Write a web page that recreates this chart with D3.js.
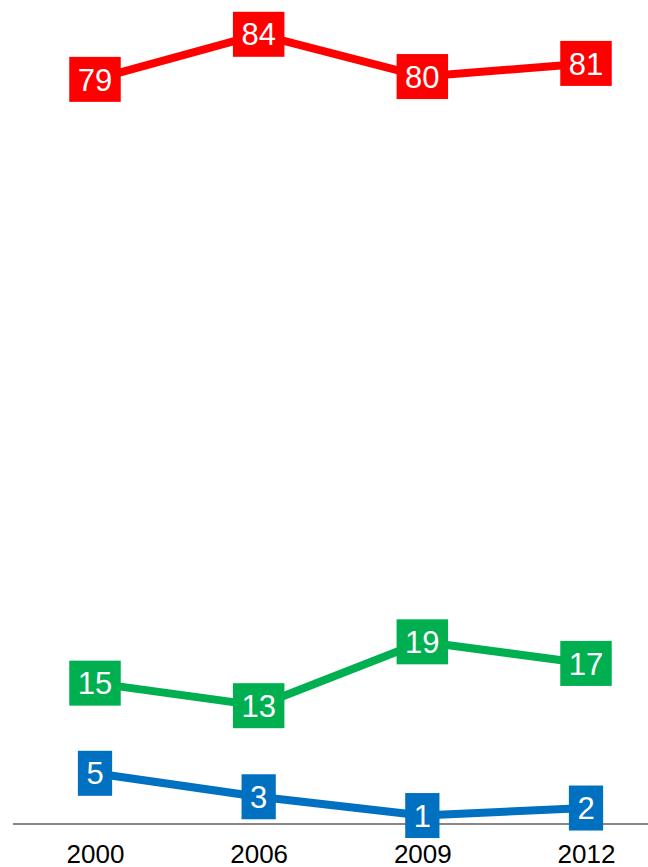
<!DOCTYPE html>
<html>
<head>
<meta charset="utf-8">
<script src="https://cdn.jsdelivr.net/npm/d3@7"></script>
<style>
  html, body { margin: 0; padding: 0; background: #fff; }
  svg { display: block; }
</style>
</head>
<body>
<svg id="chart" width="648" height="867"></svg>
<script>
const years = ["2000", "2006", "2009", "2012"];
const redValues = [79.3, 84.1, 79.6, 81.0];
const greenValues = [15.0, 12.6, 19.4, 17.1];
const blueValues = [5.4, 2.9, 0.9, 1.7];
const seriesColors = ["#FF0000", "#00B050", "#0070C0"];

const series = [redValues, greenValues, blueValues].map((vals, i) => ({
  color: seriesColors[i],
  points: vals.map((v, j) => ({ year: years[j], value: v }))
}));

const svg = d3.select("#chart");
const font = "'Liberation Sans', Arial, sans-serif";

const x = d3.scalePoint().domain(years).range([95, 586]);
const y = d3.scaleLinear().domain([0, 80]).range([824, 824 - 80 * 9.39]);

// baseline
svg.append("line")
  .attr("x1", 13).attr("x2", 648)
  .attr("y1", y(0)).attr("y2", y(0))
  .attr("stroke", "#888888").attr("stroke-width", 2);

// x axis labels
const axis = svg.append("g")
  .attr("transform", `translate(0,${y(0)})`)
  .call(d3.axisBottom(x).tickSize(0).tickPadding(21));
axis.select(".domain").remove();
axis.selectAll("text")
  .attr("font-family", font)
  .attr("font-size", 26)
  .attr("fill", "#000");

const line = d3.line().x(d => x(d.year)).y(d => y(d.value));

series.forEach(s => {
  svg.append("path")
    .datum(s.points)
    .attr("d", line)
    .attr("fill", "none")
    .attr("stroke", s.color)
    .attr("stroke-width", 8)
    .attr("stroke-linejoin", "round");
});

const fmt = d3.format(".0f");
series.forEach(s => {
  const g = svg.append("g");
  const items = g.selectAll("g.lbl").data(s.points).join("g")
    .attr("class", "lbl")
    .attr("transform", d => `translate(${x(d.year)},${y(d.value)})`);
  const rects = items.append("rect").attr("fill", s.color);
  const texts = items.append("text")
    .attr("text-anchor", "middle")
    .attr("dy", "0.36em")
    .attr("font-family", font)
    .attr("font-size", 31)
    .attr("fill", "#fff")
    .text(d => fmt(d.value));
  texts.each(function(d, i) {
    const w = this.getComputedTextLength() + 17;
    d3.select(rects.nodes()[i])
      .attr("x", -w / 2).attr("y", -22.5)
      .attr("width", w).attr("height", 45);
  });
});
</script>
</body>
</html>
